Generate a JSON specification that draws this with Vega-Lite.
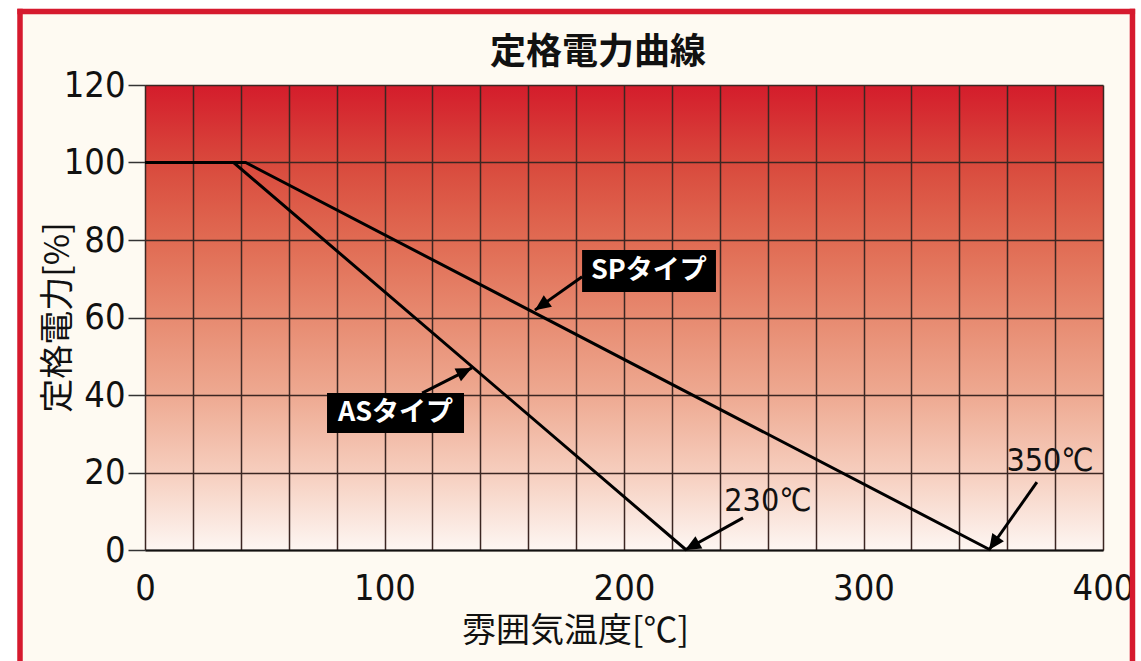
{
  "$schema": "https://vega.github.io/schema/vega-lite/v6.json",
  "autosize": {"type": "none"},
  "width": 958,
  "height": 465,
  "padding": {"left": 145, "top": 85, "right": 38, "bottom": 111},
  "background": "#fefaf2",
  "view": {
    "stroke": null,
    "fill": {
      "gradient": "linear", "x1": 0, "y1": 0, "x2": 0, "y2": 1,
      "stops": [
        {"offset": 0, "color": "#d41c2b"},
        {"offset": 0.17, "color": "#d94a3d"},
        {"offset": 0.33, "color": "#e06a52"},
        {"offset": 0.5, "color": "#e78a70"},
        {"offset": 0.67, "color": "#eeaa92"},
        {"offset": 0.83, "color": "#f6cdbd"},
        {"offset": 1, "color": "#fdf6f2"}
      ]
    }
  },
  "title": {
    "text": "定格電力曲線",
    "font": "Noto Sans CJK JP",
    "fontSize": 36,
    "fontWeight": "bold",
    "color": "#111111",
    "anchor": "middle",
    "frame": "group",
    "baseline": "bottom",
    "offset": -116.5,
    "dx": -26
  },
  "datasets": {
    "curves": [
      {"type": "ASタイプ", "t": 0, "p": 100},
      {"type": "ASタイプ", "t": 37, "p": 100},
      {"type": "ASタイプ", "t": 226, "p": 0},
      {"type": "SPタイプ", "t": 0, "p": 100},
      {"type": "SPタイプ", "t": 42, "p": 100},
      {"type": "SPタイプ", "t": 353, "p": 0}
    ],
    "arrows": [
      {"id": "SP", "x": 182.5, "y": 70.5, "x2": 162.8, "y2": 61.9},
      {"id": "AS", "x": 115.7, "y": 40.5, "x2": 136.5, "y2": 47.0},
      {"id": "230", "x": 249.7, "y": 8.3, "x2": 225.5, "y2": 0},
      {"id": "350", "x": 372.4, "y": 17.5, "x2": 352.4, "y2": 0}
    ],
    "boxes": [
      {"label": "SPタイプ", "x": 182.5, "x2": 238.4, "y": 66.6, "y2": 77.4, "cx": 210.4, "cy": 72.0},
      {"label": "ASタイプ", "x": 76.0, "x2": 133.2, "y": 30.2, "y2": 40.5, "cx": 104.6, "cy": 35.4}
    ],
    "temps": [
      {"label": "230℃", "x": 260.1, "y": 12.6},
      {"label": "350℃", "x": 377.9, "y": 22.9}
    ],
    "one": [{}]
  },
  "layer": [
    {
      "data": {"name": "curves"},
      "mark": {"type": "line", "color": "#000000", "strokeWidth": 3},
      "encoding": {
        "x": {
          "field": "t", "type": "quantitative",
          "scale": {"domain": [0, 400], "nice": false, "zero": false},
          "axis": {
            "values": [0,20,40,60,80,100,120,140,160,180,200,220,240,260,280,300,320,340,360,380,400],
            "labelExpr": "datum.value % 100 === 0 ? datum.label : ''",
            "grid": true, "gridColor": "#3b2622", "gridWidth": 1.5, "gridOpacity": 1,
            "ticks": false,
            "domain": true, "domainColor": "#111111", "domainWidth": 2,
            "labelFont": "Liberation Sans Narrow, DejaVu Sans Condensed, sans-serif",
            "labelFontSize": 36, "labelColor": "#111111", "labelPadding": 21,
            "labelFlush": false, "labelOverlap": false,
            "title": "雰囲気温度[℃]",
            "titleFont": "Noto Sans CJK JP", "titleFontSize": 34, "titleFontWeight": "normal",
            "titleColor": "#111111", "titleX": 430, "titlePadding": 8
          }
        },
        "y": {
          "field": "p", "type": "quantitative",
          "scale": {"domain": [0, 120], "nice": false},
          "axis": {
            "values": [0,20,40,60,80,100,120],
            "grid": true, "gridColor": "#3b2622", "gridWidth": 1.5, "gridOpacity": 1,
            "ticks": true, "tickSize": 17, "tickColor": "#333333", "tickWidth": 1.5,
            "domain": false,
            "labelFont": "Liberation Sans Narrow, DejaVu Sans Condensed, sans-serif",
            "labelFontSize": 36, "labelColor": "#111111", "labelPadding": 3,
            "labelFlush": false,
            "title": "定格電力[%]",
            "titleFont": "Noto Sans CJK JP", "titleFontSize": 34, "titleFontWeight": "normal",
            "titleColor": "#111111", "titleX": -87, "titleY": 232, "titleAngle": -90,
            "titleAlign": "center", "titleBaseline": "middle"
          }
        },
        "detail": {"field": "type"}
      }
    },
    {
      "data": {"name": "one"},
      "mark": {"type": "rule", "color": "#ffffff", "strokeWidth": 17},
      "encoding": {"x": {"datum": -57.0}, "y": {"datum": -40}, "y2": {"datum": 142}}
    },
    {
      "data": {"name": "one"},
      "mark": {"type": "rule", "color": "#ffffff", "strokeWidth": 9},
      "encoding": {"y": {"datum": 140.77}, "x": {"datum": -70}, "x2": {"datum": 420}}
    },
    {
      "data": {"name": "one"},
      "mark": {"type": "rule", "color": "#ffffff", "strokeWidth": 6},
      "encoding": {"x": {"datum": 415.0}, "y": {"datum": -40}, "y2": {"datum": 142}}
    },
    {
      "data": {"name": "one"},
      "mark": {"type": "rule", "color": "#d61a2e", "strokeWidth": 5.5},
      "encoding": {"x": {"datum": -52.19}, "y": {"datum": -40}, "y2": {"datum": 139.7}}
    },
    {
      "data": {"name": "one"},
      "mark": {"type": "rule", "color": "#d61a2e", "strokeWidth": 5.5},
      "encoding": {"x": {"datum": 412.3}, "y": {"datum": -40}, "y2": {"datum": 139.7}}
    },
    {
      "data": {"name": "one"},
      "mark": {"type": "rule", "color": "#d61a2e", "strokeWidth": 5.5},
      "encoding": {"y": {"datum": 138.97}, "x": {"datum": -53.3}, "x2": {"datum": 413.4}}
    },
    {
      "data": {"name": "arrows"},
      "mark": {"type": "rule", "color": "#000000", "strokeWidth": 3},
      "encoding": {
        "x": {"field": "x", "type": "quantitative"},
        "y": {"field": "y", "type": "quantitative"},
        "x2": {"field": "x2"},
        "y2": {"field": "y2"}
      }
    },
    {
      "data": {"name": "boxes"},
      "mark": {"type": "rect", "color": "#000000"},
      "encoding": {
        "x": {"field": "x", "type": "quantitative"},
        "x2": {"field": "x2"},
        "y": {"field": "y", "type": "quantitative"},
        "y2": {"field": "y2"}
      }
    },
    {
      "data": {"name": "boxes"},
      "mark": {"type": "text", "color": "#ffffff", "font": "Noto Sans CJK JP", "fontWeight": "bold", "fontSize": 27, "align": "center", "baseline": "middle"},
      "encoding": {
        "x": {"field": "cx", "type": "quantitative"},
        "y": {"field": "cy", "type": "quantitative"},
        "text": {"field": "label"}
      }
    },
    {
      "data": {"name": "temps"},
      "mark": {"type": "text", "color": "#111111", "font": "Liberation Sans Narrow, DejaVu Sans Condensed, sans-serif", "fontSize": 32, "align": "center", "baseline": "middle"},
      "encoding": {
        "x": {"field": "x", "type": "quantitative"},
        "y": {"field": "y", "type": "quantitative"},
        "text": {"field": "label"}
      }
    },
    {
      "data": {"name": "arrows"},
      "transform": [{"filter": "datum.id === 'SP'"}],
      "mark": {"type": "point", "shape": "M0,0L0.45,1L-0.45,1Z", "filled": true, "color": "#000000", "opacity": 1, "size": 1000, "angle": 234.9},
      "encoding": {"x": {"field": "x2", "type": "quantitative"}, "y": {"field": "y2", "type": "quantitative"}}
    },
    {
      "data": {"name": "arrows"},
      "transform": [{"filter": "datum.id === 'AS'"}],
      "mark": {"type": "point", "shape": "M0,0L0.45,1L-0.45,1Z", "filled": true, "color": "#000000", "opacity": 1, "size": 1000, "angle": 63.4},
      "encoding": {"x": {"field": "x2", "type": "quantitative"}, "y": {"field": "y2", "type": "quantitative"}}
    },
    {
      "data": {"name": "arrows"},
      "transform": [{"filter": "datum.id === '230'"}],
      "mark": {"type": "point", "shape": "M0,0L0.45,1L-0.45,1Z", "filled": true, "color": "#000000", "opacity": 1, "size": 1000, "angle": 241.1},
      "encoding": {"x": {"field": "x2", "type": "quantitative"}, "y": {"field": "y2", "type": "quantitative"}}
    },
    {
      "data": {"name": "arrows"},
      "transform": [{"filter": "datum.id === '350'"}],
      "mark": {"type": "point", "shape": "M0,0L0.45,1L-0.45,1Z", "filled": true, "color": "#000000", "opacity": 1, "size": 1000, "angle": 215.2},
      "encoding": {"x": {"field": "x2", "type": "quantitative"}, "y": {"field": "y2", "type": "quantitative"}}
    }
  ]
}
